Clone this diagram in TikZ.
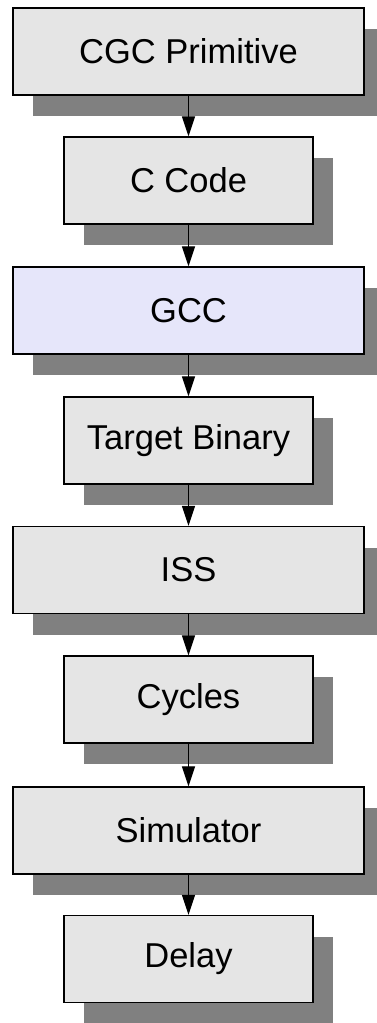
\documentclass[tikz,border=0pt]{standalone}
\usepackage{fontspec}
\setmainfont{Liberation Sans}
\usetikzlibrary{arrows.meta,shadows}
\definecolor{boxgray}{HTML}{E5E5E5}
\definecolor{gccblue}{HTML}{E6E6FA}
\definecolor{shadowgray}{HTML}{808080}
\begin{document}
\begin{tikzpicture}[x=1pt,y=-1pt,
    stage/.style={draw, line width=1.4pt, fill=boxgray, minimum height=87pt, inner sep=0pt,
        font=\fontsize{34.5}{40}\selectfont,
        drop shadow={shadow xshift=20pt, shadow yshift=-21pt, fill=shadowgray, opacity=1}},
    wide/.style={stage, minimum width=351pt},
    narrow/.style={stage, minimum width=249pt},
    flow/.style={line width=1.3pt, -{Triangle[length=20pt,width=13pt]}}]
        \useasboundingbox (0,0) rectangle (377,1023);
        \node [wide] (cgc) at (188.5,51.5) {CGC Primitive};
        \node [narrow] (ccode) at (188.5,180.5) {C Code};
        \node [wide, fill=gccblue] (gcc) at (188.5,310.5) {GCC};
        \node [narrow] (bin) at (188.5,440.5) {Target Binary};
        \node [wide] (iss) at (188.5,570) {ISS};
        \node [narrow] (cyc) at (188.5,699.5) {Cycles};
        \node [wide] (sim) at (188.5,830.5) {Simulator};
        \node [narrow] (delay) at (188.5,959) {Delay};
        \draw [flow] (cgc) -- (ccode);
        \draw [flow] (ccode) -- (gcc);
        \draw [flow] (gcc) -- (bin);
        \draw [flow] (bin) -- (iss);
        \draw [flow] (iss) -- (cyc);
        \draw [flow] (cyc) -- (sim);
        \draw [flow] (sim) -- (delay);
    \end{tikzpicture}
\end{document}
